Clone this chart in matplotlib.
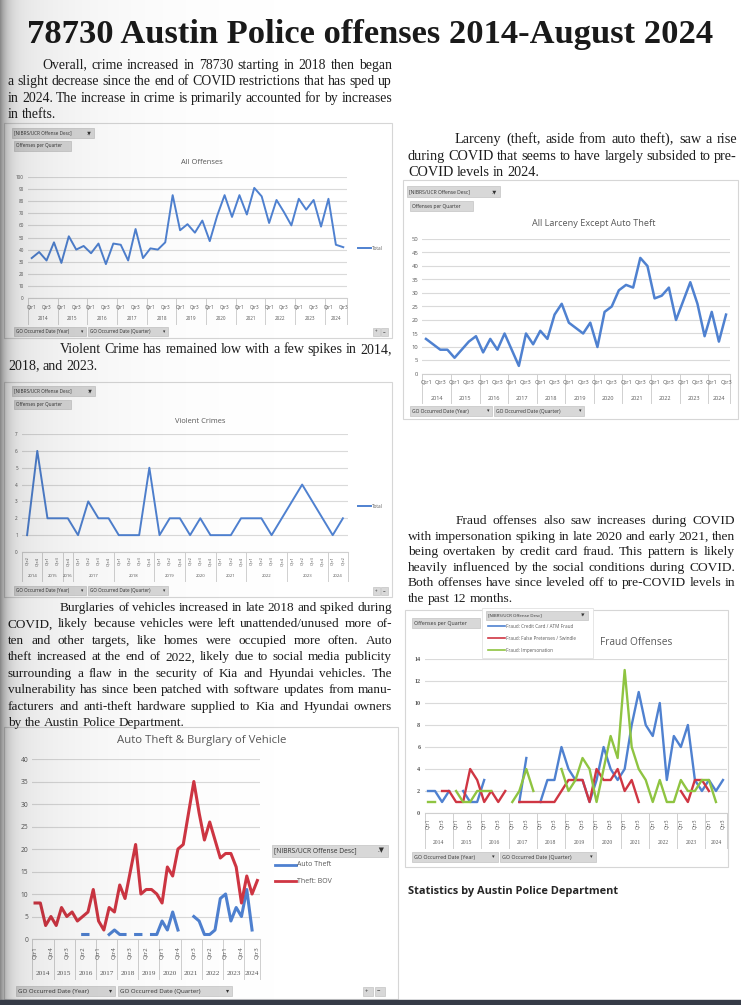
import numpy as np
import matplotlib
matplotlib.use('Agg')
import matplotlib.pyplot as plt
from matplotlib.patches import Rectangle
from matplotlib.transforms import blended_transform_factory as blend

nan = np.nan

# ---------------- data ----------------
quarters = ['Qtr1', 'Qtr2', 'Qtr3', 'Qtr4']
years = list(range(2014, 2025))
q_year = [y for y in years for q in quarters][:43]
q_name = [q for y in years for q in quarters][:43]

all_offenses = [33, 38, 31, 46, 29, 51, 40, 43, 37, 45, 28, 45, 44, 31, 57, 33,
                41, 40, 46, 85, 56, 61, 54, 64, 47, 68, 85, 67, 85, 69, 91, 84,
                62, 81, 71, 60, 82, 73, 81, 59, 82, 44, 42]

violent_year = [2014, 2014, 2015, 2015, 2016, 2017, 2017, 2017, 2017, 2018, 2018,
                2018, 2018, 2019, 2019, 2019, 2020, 2020, 2020, 2021, 2021, 2021,
                2022, 2022, 2022, 2022, 2023, 2023, 2023, 2023, 2024, 2024]
violent_qtr = ['Qtr2', 'Qtr4', 'Qtr1', 'Qtr3', 'Qtr4', 'Qtr1', 'Qtr2', 'Qtr3', 'Qtr4',
               'Qtr1', 'Qtr2', 'Qtr3', 'Qtr4', 'Qtr1', 'Qtr2', 'Qtr4', 'Qtr2', 'Qtr3',
               'Qtr4', 'Qtr1', 'Qtr2', 'Qtr4', 'Qtr1', 'Qtr2', 'Qtr3', 'Qtr4', 'Qtr1',
               'Qtr2', 'Qtr3', 'Qtr4', 'Qtr1', 'Qtr2']
violent = [1, 6, 2, 2, 2, 1, 3, 2, 2, 1, 1, 1, 5, 1, 2, 2, 1, 2, 1, 1, 1, 2,
           2, 2, 1, 2, 3, 4, 3, 2, 1, 2]

larceny = [13, 11, 9, 9, 6, 9, 12, 14, 8, 13, 9, 15, 9, 3, 15, 11,
           16, 13, 22, 26, 19, 17, 15, 19, 10, 23, 25, 31, 33, 32, 43, 40,
           28, 29, 32, 20, 27, 34, 26, 14, 23, 12, 22]

fraud_card = [2, 2, 1, 2, nan, 2, 1, 1, 3, nan, nan, nan, nan, 1, 5, nan,
              1, 3, 3, 6, 4, 3, 3, 1, 3, 6, 4, 3, 4, 8, 11, 8,
              7, 10, 3, 7, 6, 8, 3, 2, 3, 2, 3]
fraud_swindle = [nan, nan, 2, 2, 1, 1, 4, 3, 1, 2, 1, 2, nan, 1, 1, 1,
                 1, 1, 1, 2, 3, 3, 3, 1, 4, 3, 3, 4, 2, 3, 1, nan,
                 nan, nan, nan, nan, 2, 1, 3, 3, 2, nan, nan]
fraud_imperson = [1, 1, nan, nan, 2, 1, 1, 2, 2, 2, nan, nan, 1, 2, 4, 2,
                  nan, nan, nan, 4, 2, 3, 5, 4, 1, 4, 7, 5, 13, 6, 4, 3,
                  1, 3, 1, 1, 3, 2, 2, 3, 3, 1, nan]

auto_theft = [nan, nan, nan, nan, nan, nan, nan, nan, nan, 1, 1, nan, nan, nan, 1, 2,
              1, 1, nan, 1, 1, nan, 1, 1, 4, 2, 6, 2, nan, nan, 5, 4,
              1, 1, 2, 9, 10, 4, 7, 5, 11, 2, nan]
theft_bov = [8, 8, 3, 5, 3, 7, 5, 6, 4, 5, 6, 11, 4, 2, 7, 6,
             12, 9, 15, 21, 10, 11, 11, 10, 8, 16, 14, 20, 21, 28, 35, 28,
             22, 26, 22, 18, 19, 19, 16, 8, 14, 10, 13]

# ---------------- page ----------------
W, H = 741, 1005
fig = plt.figure(figsize=(W / 100, H / 100), dpi=100)
fig.patch.set_facecolor('white')
rend = fig.canvas.get_renderer()

BLUE, RED, GREEN = '#4f81d0', '#cf3643', '#8fc441'
GRID, LAB = '#dadada', '#595959'
CF = ['Open Sans', 'DejaVu Sans']
SERIF = 'Liberation Serif'


def fx(x):
    return x / W


def fy(y):
    return 1 - y / H


def axes_px(x0, y0, x1, y1):
    return fig.add_axes([x0 / W, 1 - y1 / H, (x1 - x0) / W, (y1 - y0) / H])


def word_widths(words, fs):
    out = []
    for w in words:
        t = fig.text(0, 0, w, fontsize=fs, family=SERIF)
        out.append(t.get_window_extent(rend).width)
        t.remove()
    return out


def paragraph(lines, x0, x1, indent, base0, step, gap_em=0.24):
    # pick a font size so the tightest justified line keeps a normal word gap
    fs_try = 10.0
    sizes = []
    for k, ln in enumerate(lines[:-1]):
        words = ln.split()
        avail = x1 - x0 - (indent if k == 0 else 0)
        ws = sum(word_widths(words, fs_try)) / fs_try
        sizes.append(avail / (ws + (len(words) - 1) * gap_em * 100 / 72))
    fs = min(sizes)
    for k, ln in enumerate(lines):
        words = ln.split()
        xa = x0 + (indent if k == 0 else 0)
        ws = word_widths(words, fs)
        if k == len(lines) - 1 or len(words) == 1:
            gap = gap_em * fs * 100 / 72
        else:
            gap = (x1 - xa - sum(ws)) / (len(words) - 1)
        x = xa
        for w, wd in zip(words, ws):
            fig.text(fx(x), fy(base0 + k * step), w, fontsize=fs, family=SERIF,
                     va='baseline', color='#1e1e1e')
            x += wd + gap


def box(x0, y0, x1, y1, ec='#d6d6d6', fc='none', lw=0.8):
    fig.patches.append(Rectangle((fx(x0), fy(y1)), (x1 - x0) / W, (y1 - y0) / H,
                                 transform=fig.transFigure, ec=ec, fc=fc, lw=lw))


def button(x0, y0, x1, y1, text, fs=3.3, arrow=None):
    box(x0, y0, x1, y1, ec='#c4c4c4', fc='#d8d8d8', lw=0.5)
    fig.text(fx(x0 + 2), fy((y0 + y1) / 2), text, fontsize=fs, family=CF,
             va='center', color='#333333')
    if arrow:
        fig.text(fx(x1 - 3), fy((y0 + y1) / 2), arrow, fontsize=fs, family=CF,
                 va='center', ha='right', color='#333333')


def chart(bx, n, ylim, yticks, fs):
    ax = axes_px(*bx)
    ax.set_facecolor('none')
    ax.set_xlim(-0.5, n - 0.5)
    ax.set_ylim(*ylim)
    ax.set_yticks(yticks)
    ax.set_xticks([])
    ax.yaxis.grid(True, color=GRID, lw=0.8)
    ax.set_axisbelow(True)
    ax.tick_params(axis='y', length=0, labelsize=fs, labelcolor=LAB, pad=3)
    for lab in ax.get_yticklabels():
        lab.set_family(CF)
    for s in ['top', 'right', 'left']:
        ax.spines[s].set_visible(False)
    ax.spines['bottom'].set_color('#cfcfcf')
    ax.spines['bottom'].set_linewidth(0.8)
    return ax


def cat_axis(ax, bx, qlab, ylab, show, rot, q_y, y_y, sep_y, fq, fyr, yfam=CF):
    x0, y0, x1, y1 = bx
    tr = blend(ax.transData, ax.transAxes)

    def ya(p):
        return (y1 - p) / (y1 - y0)

    for i, q in enumerate(qlab):
        if i in show:
            ax.text(i, ya(q_y), q, transform=tr, rotation=rot, ha='center',
                    va='center', fontsize=fq, color=LAB, family=CF, clip_on=False)
    starts = [i for i in range(len(ylab)) if i == 0 or ylab[i] != ylab[i - 1]]
    ends = starts[1:] + [len(ylab)]
    for s, e in zip(starts, ends):
        ax.text((s + e - 1) / 2, ya(y_y), str(ylab[s]), transform=tr, ha='center',
                va='center', fontsize=fyr, color=LAB, family=yfam, clip_on=False)
    for b in starts + [len(ylab)]:
        ax.plot([b - 0.5, b - 0.5], [0, ya(sep_y)], transform=tr, color='#d0d0d0',
                lw=0.7, clip_on=False)


def legend_entry(x0, x1, y, color, text, fs, lw):
    fig.lines.append(plt.Line2D([fx(x0), fx(x1)], [fy(y), fy(y)], color=color, lw=lw,
                                transform=fig.transFigure))
    fig.text(fx(x1 + 1), fy(y), text, fontsize=fs, family=CF, va='center', color=LAB)


# ---------------- title ----------------
t = fig.text(fx(370), fy(43), '78730 Austin Police offenses 2014-August 2024',
             ha='center', va='baseline', fontsize=24, family=SERIF, weight='bold',
             color='#1a1a1a')
tw = t.get_window_extent(rend).width
t.set_fontsize(24 * 685 / tw)

# ---------------- text columns ----------------
paragraph(["Overall, crime increased in 78730 starting in 2018 then began",
           "a slight decrease since the end of COVID restrictions that has sped up",
           "in 2024.  The increase in crime is primarily accounted for by increases",
           "in thefts."], 8, 392, 34, 68.5, 16.6)
paragraph(["Violent Crime has remained low with a few spikes in 2014,",
           "2018, and 2023."], 8, 392, 52, 353, 16.6)
paragraph(["Burglaries of vehicles increased in late 2018 and spiked during",
           "COVID, likely because vehicles were left unattended/unused more of-",
           "ten and other targets, like homes were occupied more often.  Auto",
           "theft increased at the end of 2022, likely due to social media publicity",
           "surrounding a flaw in the security of Kia and Hyundai vehicles.  The",
           "vulnerability has since been patched with software updates from manu-",
           "facturers and anti-theft hardware supplied to Kia and Hyundai owners",
           "by the Austin Police Department."], 8, 392, 52, 611, 16.45)
paragraph(["Larceny (theft, aside from auto theft), saw a rise",
           "during COVID that seems to have largely subsided to pre-",
           "COVID levels in 2024."], 408, 737, 47, 143, 16.5)
paragraph(["Fraud offenses also saw increases during COVID",
           "with impersonation spiking in late 2020 and early 2021, then",
           "being overtaken by credit card fraud.  This pattern is likely",
           "heavily influenced by the social conditions during COVID.",
           "Both offenses have since leveled off to pre-COVID levels in",
           "the past 12 months."], 408, 735, 48, 524, 15.6)

st = fig.text(fx(408), fy(891), 'Statistics by Austin Police Department', fontsize=8.6,
              family=CF, weight='bold', va='center', color='#262626')
st.set_fontsize(8.6 * 209 / st.get_window_extent(rend).width)

# ---------------- chart 1: All Offenses ----------------
box(4, 123, 392, 338)
button(12, 128, 94, 138, '[NIBRS/UCR Offense Desc]', arrow='.\u25bc')
button(14, 141, 71, 151, 'Offenses per Quarter')
button(14, 327, 86, 336, 'GO Occurred Date (Year)', arrow='\u25be')
button(88, 327, 168, 336, 'GO Occurred Date (Quarter)', arrow='\u25be')
button(373, 328, 380, 336, '+')
button(381, 328, 388, 336, '\u2212')
fig.text(fx(202), fy(163), 'All Offenses', fontsize=5.4, family=CF, ha='center',
         va='center', color=LAB)
b1 = (28, 177, 347, 298)
ax1 = chart(b1, 43, (0, 100), range(0, 101, 10), 3.3)
ax1.plot(range(43), all_offenses, color=BLUE, lw=1.4)
cat_axis(ax1, b1, q_name, q_year, set(range(0, 43, 2)), 0, 307, 318, 324, 3.3, 3.3)
legend_entry(358, 371, 248, BLUE, 'Total', 3.3, 1.4)

# ---------------- chart 2: Violent Crimes ----------------
box(4, 382, 392, 597)
button(12, 386, 95, 396, '[NIBRS/UCR Offense Desc]', arrow='.\u25bc')
button(14, 400, 71, 409, 'Offenses per Quarter')
button(14, 586, 86, 595, 'GO Occurred Date (Year)', arrow='\u25be')
button(88, 586, 168, 595, 'GO Occurred Date (Quarter)', arrow='\u25be')
button(373, 587, 380, 595, '+')
button(381, 587, 388, 595, '\u2212')
fig.text(fx(200), fy(421), 'Violent Crimes', fontsize=5.4, family=CF, ha='center',
         va='center', color=LAB)
b2 = (22, 434, 348, 552)
ax2 = chart(b2, 32, (0, 7), range(0, 8), 3.3)
ax2.plot(range(32), violent, color=BLUE, lw=1.4)
cat_axis(ax2, b2, violent_qtr, violent_year, set(range(32)), 90, 561, 576, 581, 3.1, 3.1)
legend_entry(358, 371, 506, BLUE, 'Total', 3.3, 1.4)

# ---------------- chart 3: Larceny ----------------
box(403, 180, 738, 419)
button(407, 186, 500, 197, '[NIBRS/UCR Offense Desc]', fs=3.6, arrow='.\u25bc')
button(410, 201, 473, 211, 'Offenses per Quarter', fs=3.6)
button(410, 406, 492, 416, 'GO Occurred Date (Year)', fs=3.6, arrow='\u25be')
button(494, 406, 584, 416, 'GO Occurred Date (Quarter)', fs=3.6, arrow='\u25be')
fig.text(fx(594), fy(224), 'All Larceny Except Auto Theft', fontsize=6.6, family=CF,
         ha='center', va='center', color=LAB)
b3 = (422.4, 239, 729.6, 374)
ax3 = chart(b3, 43, (0, 50), range(0, 51, 5), 4.2)
ax3.plot(range(43), larceny, color=BLUE, lw=1.8)
cat_axis(ax3, b3, q_name, q_year, set(range(0, 43, 2)), 0, 382.5, 398, 403, 4.0, 4.0)

# ---------------- chart 4: Fraud ----------------
box(405, 610, 728, 867)
button(412, 618, 480, 628, 'Offenses per Quarter', fs=3.8)
box(482, 608, 593, 658, ec='#e2e2e2', fc='white', lw=0.6)
button(486, 611, 588, 620, '[NIBRS/UCR Offense Desc]', fs=3.2, arrow='.\u25bc')
legend_entry(488, 505, 626, BLUE, 'Fraud: Credit Card / ATM Fraud', 3.3, 1.2)
legend_entry(488, 505, 638, RED, 'Fraud: False Pretenses / Swindle', 3.3, 1.2)
legend_entry(488, 505, 650, GREEN, 'Fraud: Impersonation', 3.3, 1.2)
fig.text(fx(600), fy(642), 'Fraud Offenses', fontsize=7.3, family=CF, va='center',
         color=LAB)
button(412, 852, 498, 862, 'GO Occurred Date (Year)', fs=3.8, arrow='\u25be')
button(500, 852, 596, 862, 'GO Occurred Date (Quarter)', fs=3.8, arrow='\u25be')
b4 = (424.5, 659, 726.5, 813)
ax4 = chart(b4, 43, (0, 14), range(0, 15, 2), 4.4)
for lab in ax4.get_yticklabels():
    lab.set_family(SERIF)
    lab.set_weight('bold')
ax4.plot(range(43), fraud_card, color=BLUE, lw=1.7)
ax4.plot(range(43), fraud_swindle, color=RED, lw=1.7)
ax4.plot(range(43), fraud_imperson, color=GREEN, lw=1.7)
cat_axis(ax4, b4, q_name, q_year, set(range(0, 43, 2)), 90, 824, 842, 848, 3.6, 4.1,
         yfam=SERIF)

# ---------------- chart 5: Auto Theft & BOV ----------------
box(4, 727, 398, 999)
fig.text(fx(202), fy(740), 'Auto Theft & Burglary of Vehicle', fontsize=8.2, family=CF,
         ha='center', va='center', color=LAB)
b5 = (32.4, 759, 260, 939)
ax5 = chart(b5, 43, (0, 40), range(0, 41, 5), 4.8)
ax5.plot(range(43), auto_theft, color=BLUE, lw=2.2)
ax5.plot(range(43), theft_bov, color=RED, lw=2.2)
cat_axis(ax5, b5, q_name, q_year, set(range(0, 43, 3)), 90, 953, 973, 979, 4.3, 5.2,
         yfam=SERIF)
button(272, 845, 388, 857, '[NIBRS/UCR Offense Desc]', fs=4.9, arrow='.\u25bc')
legend_entry(275, 296, 865, BLUE, 'Auto Theft', 5.0, 2.0)
legend_entry(275, 296, 881, RED, 'Theft: BOV', 5.0, 2.0)
button(16, 986, 115, 996, 'GO Occurred Date (Year)', fs=4.4, arrow='\u25be')
button(118, 986, 232, 996, 'GO Occurred Date (Quarter)', fs=4.4, arrow='\u25be')
button(363, 987, 373, 996, '+', fs=4.4)
button(375, 987, 385, 996, '\u2212', fs=4.4)

# ---------------- page shading & bottom edge ----------------
ov = fig.add_axes([0, 0, 1, 1], zorder=10)
ov.axis('off')
xs = np.arange(W)
alpha = 0.34 * np.exp(-xs / 7.0) + 0.12 * np.exp(-xs / 80.0)
rgba = np.zeros((1, W, 4))
rgba[..., 3] = alpha
ov.imshow(rgba, extent=[0, W, H, 0], aspect='auto', interpolation='bilinear')
ov.add_patch(Rectangle((0, 1000), W, 6, color='#363b47'))
ov.set_xlim(0, W)
ov.set_ylim(H, 0)

fig.savefig('out.png', dpi=100)
